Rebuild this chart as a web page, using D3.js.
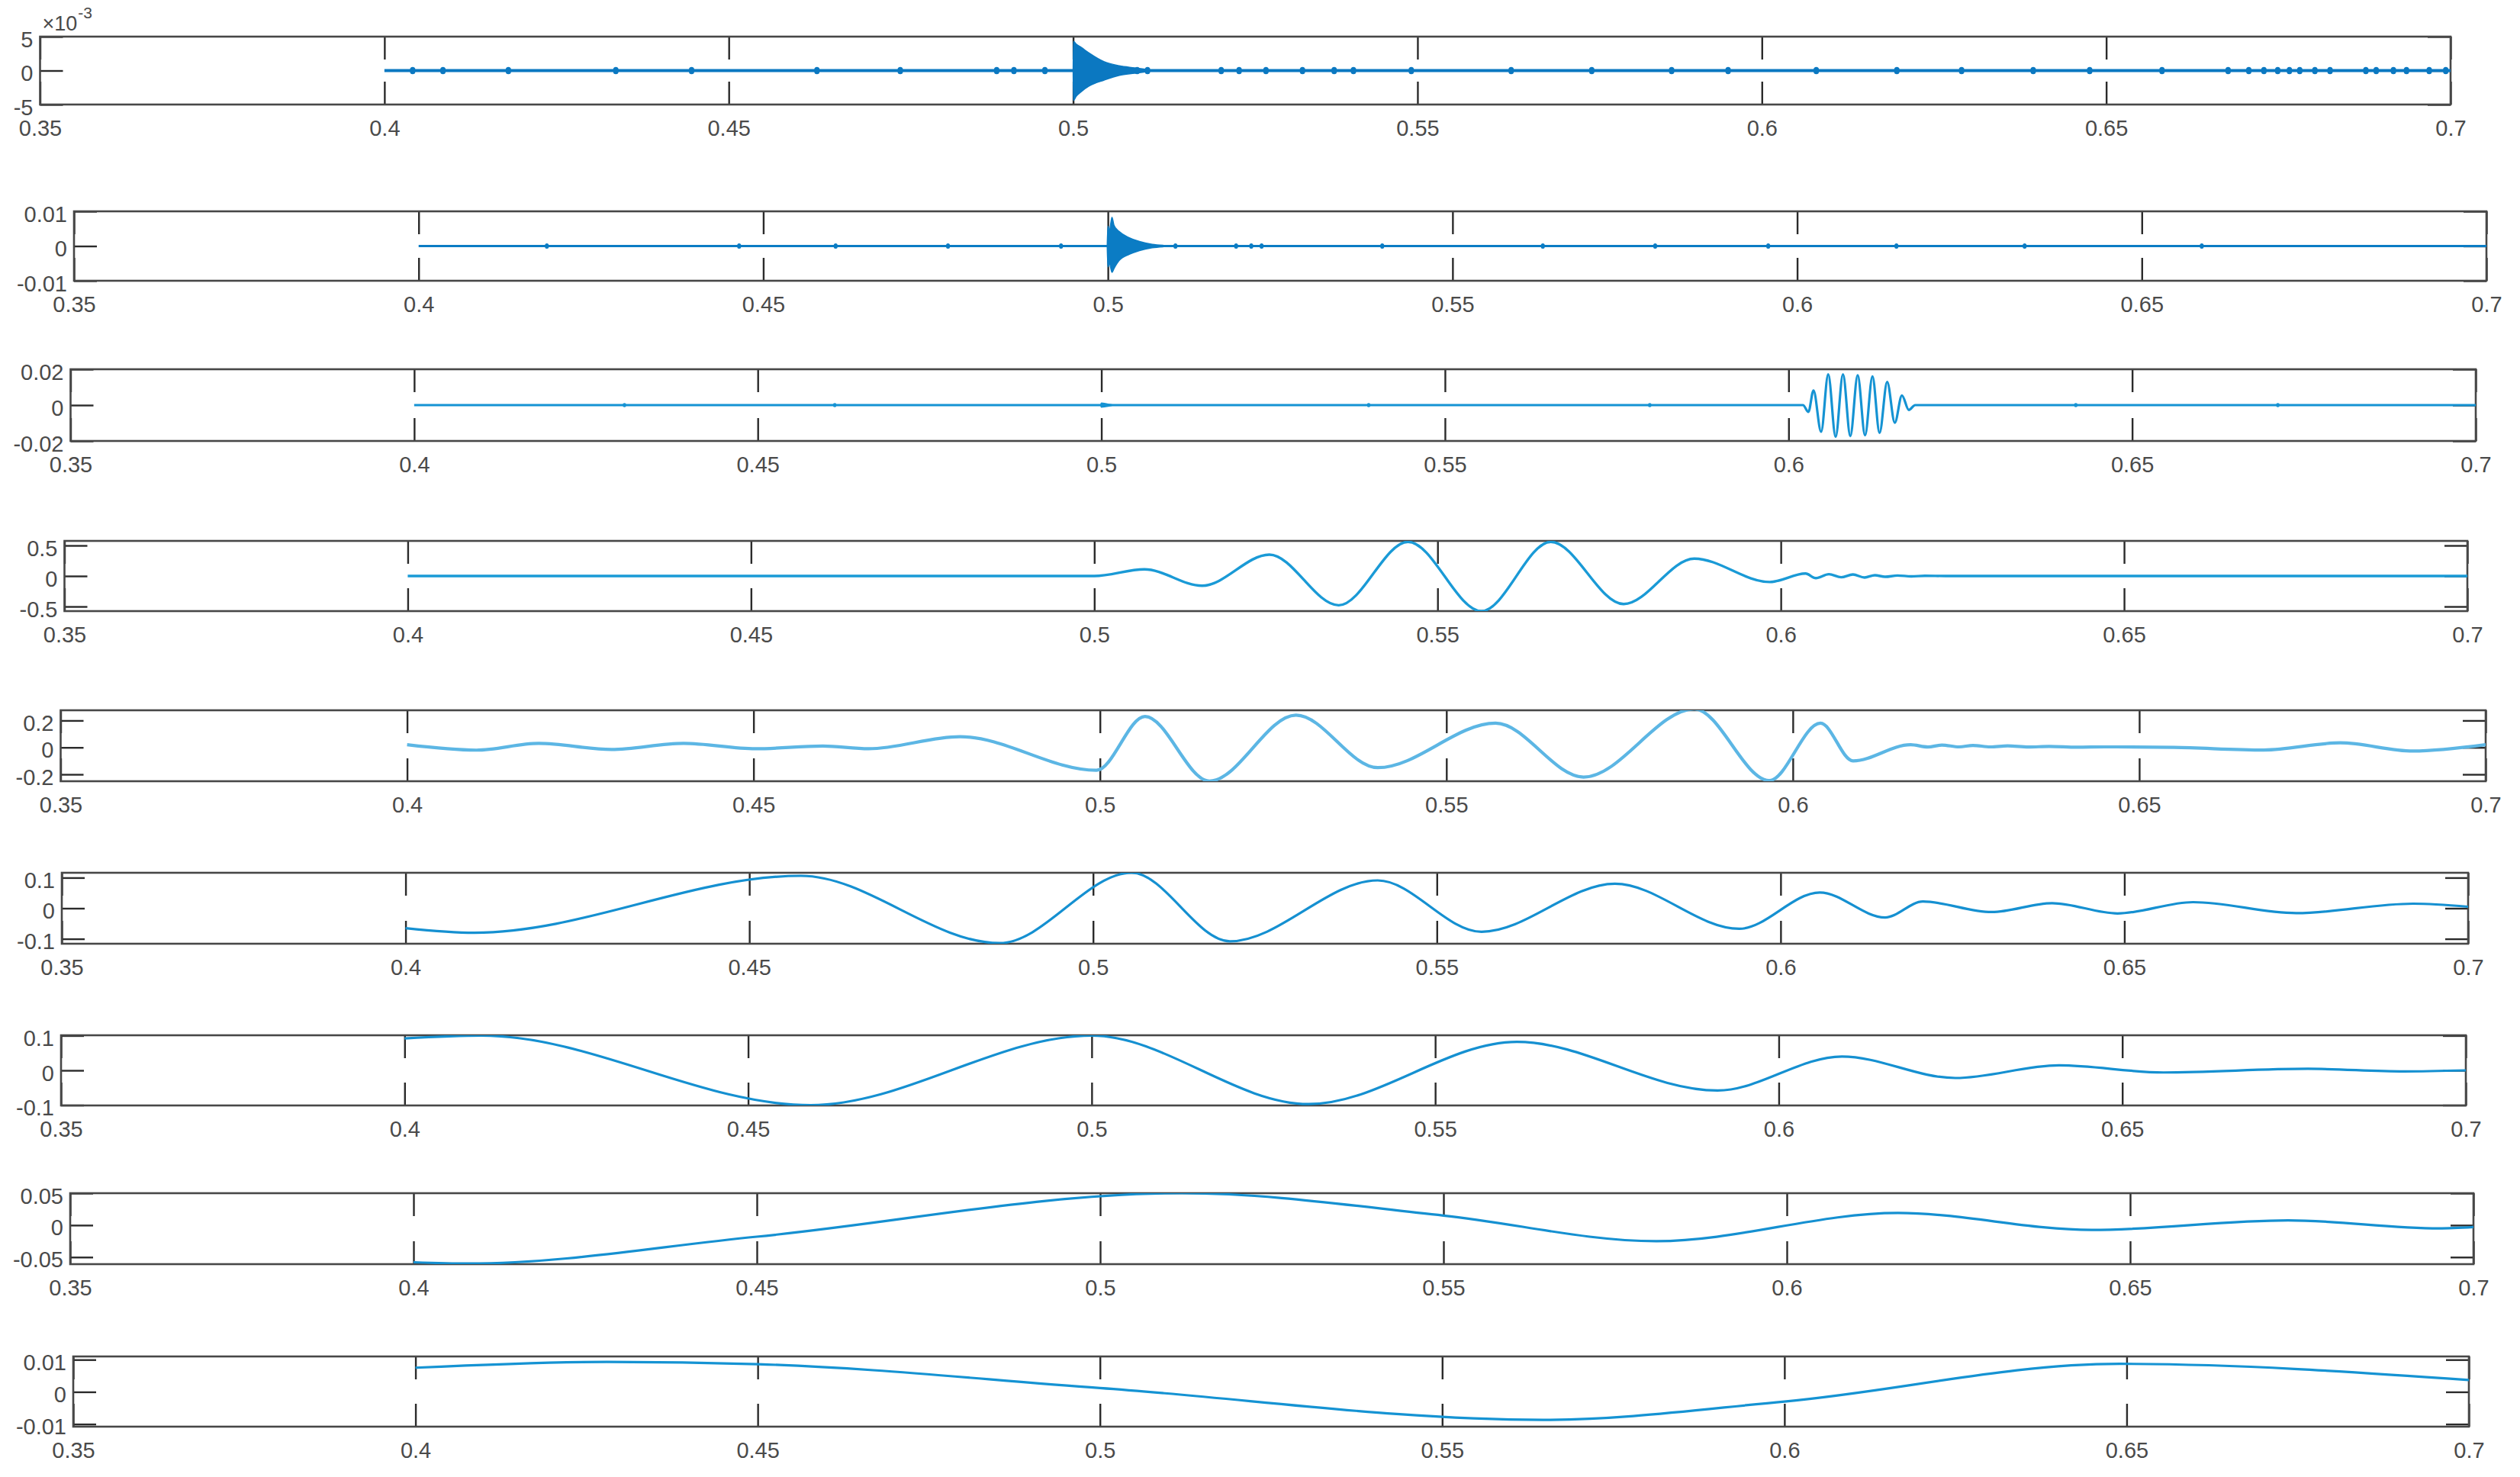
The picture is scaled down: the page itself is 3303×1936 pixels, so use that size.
<!DOCTYPE html>
<html>
<head>
<meta charset="utf-8">
<script src="https://cdn.jsdelivr.net/npm/d3@7"></script>
<style>
  html, body { margin: 0; padding: 0; background: #fff; }
  svg { display: block; font-family: 'Liberation Sans', Arial, sans-serif; }
</style>
</head>
<body>
<div id="chart"></div>
<script>
// shared time axis
const xTicks = [0.35, 0.4, 0.45, 0.5, 0.55, 0.6, 0.65, 0.7];
const xTickLabels = ['0.35', '0.4', '0.45', '0.5', '0.55', '0.6', '0.65', '0.7'];

// y ticks / labels for each panel, top to bottom
const yTicks1 = [-5e-3, 0, 5e-3];
const yLabels1 = ['-5', '0', '5'];
const yTicks2 = [-0.01, 0, 0.01];
const yLabels2 = ['-0.01', '0', '0.01'];
const yTicks3 = [-0.02, 0, 0.02];
const yLabels3 = ['-0.02', '0', '0.02'];
const yTicks4 = [-0.5, 0, 0.5];
const yLabels4 = ['-0.5', '0', '0.5'];
const yTicks5 = [-0.2, 0, 0.2];
const yLabels5 = ['-0.2', '0', '0.2'];
const yTicks6 = [-0.1, 0, 0.1];
const yLabels6 = ['-0.1', '0', '0.1'];
const yTicks7 = [-0.1, 0, 0.1];
const yLabels7 = ['-0.1', '0', '0.1'];
const yTicks8 = [-0.05, 0, 0.05];
const yLabels8 = ['-0.05', '0', '0.05'];
const yTicks9 = [-0.01, 0, 0.01];
const yLabels9 = ['-0.01', '0', '0.01'];

// y limits
const yLimits = [
  [-5e-3, 5e-3], [-0.01, 0.01], [-0.02, 0.02], [-0.575, 0.575], [-0.251, 0.276],
  [-0.116, 0.116], [-0.101, 0.101], [-0.061, 0.05], [-0.0108, 0.011],
];

// panel 1: noise + decaying burst at 0.5  ([t, upper, lower])
const p1Burst = [
  [0.5, 0, 0], [0.50005, 4.3e-3, -4.4e-3], [0.50044, 3.9e-3, -3.8e-3], [0.50118, 3.4e-3, -3.1e-3],
  [0.50229, 2.6e-3, -2.3e-3], [0.50451, 1.3e-3, -1.4e-3], [0.50672, 0.7e-3, -0.7e-3],
  [0.50894, 0.4e-3, -0.4e-3], [0.5104, 0.2e-3, -0.2e-3],
];
const p1Blips = [
  0.4041, 0.4085, 0.418, 0.4336, 0.4446, 0.4628, 0.4749, 0.4889, 0.4914, 0.4959, 0.5093, 0.5108,
  0.5215, 0.5241, 0.528, 0.5333, 0.5379, 0.5407, 0.5491, 0.5636, 0.5753, 0.5869, 0.5951, 0.6079,
  0.6196, 0.629, 0.6394, 0.6476, 0.6581, 0.6677, 0.6707, 0.6729, 0.6749, 0.6766, 0.6781, 0.6803,
  0.6825, 0.6877, 0.6892, 0.6917, 0.6936, 0.6969, 0.6993,
];
const p1BlipAmp = 0.15e-3;

// panel 2
const p2Burst = [
  [0.4999, 0, 0], [0.5, 0.0057, -0.006], [0.50022, 0.0045, -0.005], [0.50059, 0.0083, -0.0076],
  [0.50088, 0.006, -0.0065], [0.50162, 0.0042, -0.0042], [0.5031, 0.0024, -0.0024],
  [0.50457, 0.0013, -0.0013], [0.50642, 0.0005, -0.0005], [0.508, 0.0002, -0.0002],
];
const p2Blips = [
  0.4186, 0.4465, 0.4605, 0.4768, 0.4932, 0.5098, 0.5186, 0.5208, 0.5223, 0.5398, 0.5631,
  0.5794, 0.5958, 0.6144, 0.633, 0.6587,
];
const p2BlipAmp = 0.0002;

// panel 3: small burst at 0.5, wave packet after 0.6
const p3Burst = [
  [0.4999, 0, 0], [0.5, 0.0012, -0.0012], [0.5006, 0.0009, -0.0009], [0.5015, 0.0002, -0.0002],
];
const p3Wave = [
  [0.4, 0], [0.6021, 0], [0.60289, -0.0038], [0.60363, 0.0082], [0.60474, -0.0149],
  [0.60577, 0.0172], [0.60685, -0.0177], [0.60792, 0.0172], [0.60899, -0.0173], [0.61006, 0.0167],
  [0.61113, -0.0169], [0.61221, 0.016], [0.61324, -0.0155], [0.61435, 0.0129], [0.61546, -0.0098],
  [0.6165, 0.0054], [0.6175, -0.0027], [0.61842, 0], [0.7, 0],
];
const p3Blips = [0.4306, 0.4612, 0.5389, 0.5798, 0.6418, 0.6712];
const p3BlipAmp = 0.0002;

// panels 4-9: extrema of the smooth components
const p4Wave = [
  [0.4, 0], [0.5, 0], [0.5073, 0.11], [0.5157, -0.16], [0.5255, 0.35], [0.5356, -0.48],
  [0.5457, 0.56], [0.5564, -0.575], [0.5665, 0.56], [0.5771, -0.46], [0.5874, 0.285],
  [0.5984, -0.098], [0.6036, 0.04], [0.6051, -0.035], [0.607, 0.03], [0.6088, -0.02],
  [0.6105, 0.025], [0.6122, -0.025], [0.6137, 0.013], [0.6152, -0.013], [0.617, 0.008],
  [0.619, -0.006], [0.621, 0.004], [0.624, 0], [0.7, 0],
];
const p5Wave = [
  [0.4, 0.02], [0.41, -0.02], [0.419, 0.03], [0.4295, -0.015], [0.4399, 0.03], [0.4503, -0.01],
  [0.46, 0.01], [0.4666, -0.01], [0.4798, 0.08], [0.4995, -0.17], [0.5065, 0.23], [0.5158, -0.25],
  [0.5283, 0.24], [0.5401, -0.15], [0.5571, 0.18], [0.5698, -0.22], [0.5858, 0.285],
  [0.5966, -0.246], [0.604, 0.18], [0.6087, -0.1], [0.617, 0.02], [0.6195, 0.003], [0.6215, 0.018],
  [0.624, 0.004], [0.626, 0.015], [0.6285, 0.004], [0.631, 0.012], [0.634, 0.003], [0.637, 0.008],
  [0.641, 0.002], [0.645, 0.004], [0.655, 0], [0.668, -0.019], [0.679, 0.034], [0.6895, -0.027],
  [0.7, 0.02],
];
const p6Wave = [
  [0.4, -0.065], [0.41, -0.08], [0.4575, 0.106], [0.4864, -0.114], [0.5056, 0.116],
  [0.5199, -0.108], [0.5414, 0.091], [0.5565, -0.077], [0.5759, 0.08], [0.594, -0.067],
  [0.6057, 0.0515], [0.6152, -0.03], [0.6207, 0.022], [0.6307, -0.0124], [0.6395, 0.0167],
  [0.649, -0.017], [0.66, 0.02], [0.675, -0.016], [0.692, 0.015], [0.7, 0.005],
];
const p7Wave = [
  [0.4, 0.092], [0.4112, 0.1], [0.4591, -0.1], [0.5, 0.1], [0.5316, -0.097], [0.5619, 0.082],
  [0.5911, -0.058], [0.6092, 0.04], [0.6257, -0.022], [0.6408, 0.0145], [0.656, -0.006],
  [0.677, 0.0045], [0.691, -0.003], [0.7, 0],
];
const p8Wave = [
  [0.4, -0.058], [0.408, -0.06], [0.45, -0.018], [0.5119, 0.05], [0.55, 0.015], [0.581, -0.025],
  [0.6162, 0.019], [0.6444, -0.0075], [0.673, 0.0075], [0.695, -0.005], [0.7, -0.003],
];
const p9Wave = [
  [0.4, 0.0075], [0.428, 0.0093], [0.45, 0.0086], [0.5, 0.0012], [0.5647, -0.0087],
  [0.6, -0.003], [0.649, 0.0087], [0.7, 0.0037],
];
const flatLine = [[0.4, 0], [0.7, 0]];

// the boxes of the nine stacked axes (pixels)
const frames = [
  { left: 52.5, right: 3212, top: 48, bottom: 137 },
  { left: 97, right: 3259, top: 277, bottom: 368 },
  { left: 92.5, right: 3245, top: 484, bottom: 578 },
  { left: 84.5, right: 3234, top: 709, bottom: 801 },
  { left: 79.5, right: 3258, top: 931, bottom: 1024 },
  { left: 81, right: 3235, top: 1144, bottom: 1237 },
  { left: 80, right: 3232, top: 1357, bottom: 1449 },
  { left: 92, right: 3242, top: 1564, bottom: 1657 },
  { left: 96, right: 3236, top: 1778, bottom: 1870 },
];

const panels = [
  { yTicks: yTicks1, yLabels: yLabels1, base: flatLine, baseWidth: 4, burst: p1Burst, blips: p1Blips, blipAmp: p1BlipAmp, blipWidth: 7, color: '#0b78c1' },
  { yTicks: yTicks2, yLabels: yLabels2, base: flatLine, baseWidth: 2.8, burst: p2Burst, blips: p2Blips, blipAmp: p2BlipAmp, blipWidth: 5, color: '#0b7cc4' },
  { yTicks: yTicks3, yLabels: yLabels3, base: p3Wave, baseWidth: 3.2, burst: p3Burst, blips: p3Blips, blipAmp: p3BlipAmp, blipWidth: 4.5, color: '#1593d3' },
  { yTicks: yTicks4, yLabels: yLabels4, base: p4Wave, baseWidth: 3.4, color: '#1a9ad6' },
  { yTicks: yTicks5, yLabels: yLabels5, base: p5Wave, baseWidth: 4.2, color: '#5cb6e4' },
  { yTicks: yTicks6, yLabels: yLabels6, base: p6Wave, baseWidth: 3.2, color: '#1590d1' },
  { yTicks: yTicks7, yLabels: yLabels7, base: p7Wave, baseWidth: 3.2, color: '#1590d1' },
  { yTicks: yTicks8, yLabels: yLabels8, base: p8Wave, baseWidth: 3.2, color: '#1590d1' },
  { yTicks: yTicks9, yLabels: yLabels9, base: p9Wave, baseWidth: 3.2, color: '#1593d3' },
];

const width = 3303;
const height = 1936;
const tickLen = 30;
const fontSize = 29;

const svg = d3.select('#chart').append('svg')
  .attr('width', width)
  .attr('height', height)
  .attr('viewBox', [0, 0, width, height]);

svg.append('rect').attr('width', width).attr('height', height).attr('fill', '#fff');

panels.forEach((p, i) => {
  const f = frames[i];
  const x = d3.scaleLinear().domain([0.35, 0.7]).range([f.left, f.right]);
  const y = d3.scaleLinear().domain(yLimits[i]).range([f.bottom, f.top]);

  const g = svg.append('g').attr('class', `panel-${i + 1}`);

  const clipId = `clip-${i}`;
  g.append('clipPath').attr('id', clipId)
    .append('rect')
    .attr('x', f.left).attr('y', f.top)
    .attr('width', f.right - f.left).attr('height', f.bottom - f.top);

  // inward ticks on all four sides, labels only bottom and left
  const bottomAxis = d3.axisBottom(x)
    .tickValues(xTicks)
    .tickFormat((d, k) => xTickLabels[k])
    .tickSizeInner(-tickLen).tickSizeOuter(0).tickPadding(20);
  const topAxis = d3.axisTop(x)
    .tickValues(xTicks).tickFormat('')
    .tickSizeInner(-tickLen).tickSizeOuter(0);
  const leftAxis = d3.axisLeft(y)
    .tickValues(p.yTicks)
    .tickFormat((d, k) => p.yLabels[k])
    .tickSizeInner(-tickLen).tickSizeOuter(0).tickPadding(9);
  const rightAxis = d3.axisRight(y)
    .tickValues(p.yTicks).tickFormat('')
    .tickSizeInner(-tickLen).tickSizeOuter(0);

  const styleAxis = (sel) => {
    sel.select('.domain').remove();
    sel.selectAll('.tick line').attr('stroke', '#2b2b2b').attr('stroke-width', 2.4);
    sel.selectAll('.tick text')
      .attr('fill', '#4a4a4a')
      .attr('font-size', fontSize)
      .attr('font-family', "'Liberation Sans', Arial, sans-serif");
  };

  g.append('g').attr('transform', `translate(0,${f.bottom})`).call(bottomAxis).call(styleAxis);
  g.append('g').attr('transform', `translate(0,${f.top})`).call(topAxis).call(styleAxis);
  g.append('g').attr('transform', `translate(${f.left},0)`).call(leftAxis).call(styleAxis)
    .selectAll('.tick text').attr('dy', '0.45em');
  g.append('g').attr('transform', `translate(${f.right},0)`).call(rightAxis).call(styleAxis);

  g.append('rect')
    .attr('x', f.left).attr('y', f.top)
    .attr('width', f.right - f.left).attr('height', f.bottom - f.top)
    .attr('fill', 'none')
    .attr('stroke', '#474747')
    .attr('stroke-width', 2.6);

  const plot = g.append('g').attr('clip-path', `url(#${clipId})`);

  const line = d3.line()
    .x((d) => x(d[0]))
    .y((d) => y(d[1]))
    .curve(d3.curveMonotoneX);

  plot.append('path')
    .datum(p.base)
    .attr('fill', 'none')
    .attr('stroke', p.color)
    .attr('stroke-width', p.baseWidth)
    .attr('stroke-linejoin', 'round')
    .attr('d', line);

  if (p.blips) {
    plot.append('g')
      .selectAll('line')
      .data(p.blips)
      .join('line')
      .attr('x1', (d) => x(d))
      .attr('x2', (d) => x(d))
      .attr('y1', y(-p.blipAmp))
      .attr('y2', y(p.blipAmp))
      .attr('stroke', p.color)
      .attr('stroke-width', p.blipWidth)
      .attr('stroke-linecap', 'round');
  }

  if (p.burst) {
    const area = d3.area()
      .x((d) => x(d[0]))
      .y0((d) => y(d[2]))
      .y1((d) => y(d[1]))
      .curve(d3.curveMonotoneX);
    plot.append('path')
      .datum(p.burst)
      .attr('fill', p.color)
      .attr('stroke', p.color)
      .attr('stroke-width', 1.5)
      .attr('d', area);
  }

  // MATLAB style exponent on the first axes
  if (i === 0) {
    const base = g.append('text')
      .attr('x', f.left + 3)
      .attr('y', f.top - 8)
      .attr('fill', '#4a4a4a')
      .attr('font-size', 27)
      .text('\u00d710');
    const w = base.node().getComputedTextLength();
    g.append('text')
      .attr('x', f.left + 4 + w)
      .attr('y', f.top - 24)
      .attr('fill', '#4a4a4a')
      .attr('font-size', 21)
      .text('-3');
  }
});
</script>
</body>
</html>
